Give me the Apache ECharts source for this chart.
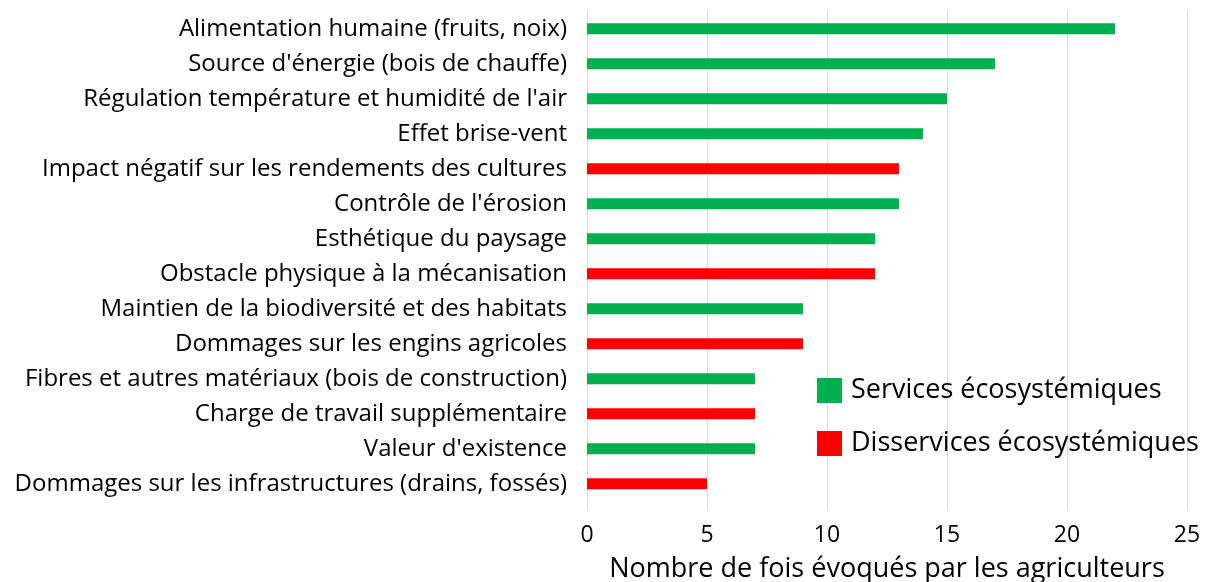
<!DOCTYPE html>
<html>
<head>
<meta charset="utf-8">
<script src="https://cdn.jsdelivr.net/npm/echarts@6/dist/echarts.min.js"></script>
<style>
  html, body { margin: 0; padding: 0; background: #fff; }
  #main { width: 1207px; height: 582px; }
</style>
</head>
<body>
<div id="main"></div>
<script>
// catégories (du haut vers le bas)
var categories = [
    'Alimentation humaine (fruits, noix)',
    "Source d'énergie (bois de chauffe)",
    "Régulation température et humidité de l'air",
    'Effet brise-vent',
    'Impact négatif sur les rendements des cultures',
    "Contrôle de l'érosion",
    'Esthétique du paysage',
    'Obstacle physique à la mécanisation',
    'Maintien de la biodiversité et des habitats',
    'Dommages sur les engins agricoles',
    'Fibres et autres matériaux (bois de construction)',
    'Charge de travail supplémentaire',
    "Valeur d'existence",
    'Dommages sur les infrastructures (drains, fossés)'
];
var services = [22, 17, 15, 14, '-', 13, 12, '-', 9, '-', 7, '-', 7, '-'];
var disservices = ['-', '-', '-', '-', 13, '-', '-', 12, '-', 9, '-', 7, '-', 5];
var xTicks = [0, 5, 10, 15, 20, 25];

var myChart = echarts.init(document.getElementById('main'));
var font = '"Open Sans", sans-serif';

var option = {
    animation: false,
    textStyle: { fontFamily: font },
    grid: {
        left: 587,
        right: 20,
        top: 11.3,
        bottom: 80.7,
        outerBoundsMode: 'none'
    },
    legend: {
        orient: 'vertical',
        left: 812,
        top: 372,
        itemWidth: 25,
        itemHeight: 25,
        itemGap: 26,
        icon: 'rect',
        textStyle: { fontSize: 27, color: '#000', fontFamily: font, padding: [0, 0, 0, 4] },
        data: ['Services écosystémiques', 'Disservices écosystémiques']
    },
    xAxis: {
        type: 'value',
        min: xTicks[0],
        max: xTicks[xTicks.length - 1],
        interval: 5,
        name: 'Nombre de fois évoqués par les agriculteurs',
        nameLocation: 'middle',
        nameGap: 55,
        nameTextStyle: { fontSize: 27, color: '#000', fontFamily: font },
        axisLine: { show: false },
        // petites prolongations des lignes de grille sous la zone de tracé
        axisTick: { show: true, length: 9, lineStyle: { color: '#d9d9d9' } },
        axisLabel: { fontSize: 23, color: '#000', margin: 23, fontFamily: font },
        splitLine: { lineStyle: { color: '#d9d9d9', width: 1 } }
    },
    yAxis: {
        type: 'category',
        inverse: true,
        data: categories,
        axisLine: { show: false },
        axisTick: { show: false },
        axisLabel: { fontSize: 24, color: '#000', margin: 20, fontFamily: font }
    },
    series: [
        {
            name: 'Services écosystémiques',
            type: 'bar',
            stack: 'tot',
            barWidth: 11,
            itemStyle: { color: '#00b050' },
            data: services
        },
        {
            name: 'Disservices écosystémiques',
            type: 'bar',
            stack: 'tot',
            barWidth: 11,
            itemStyle: { color: '#ff0000' },
            data: disservices
        }
    ]
};

myChart.setOption(option);
window.addEventListener('resize', function () {
    myChart.resize();
});
</script>
</body>
</html>
